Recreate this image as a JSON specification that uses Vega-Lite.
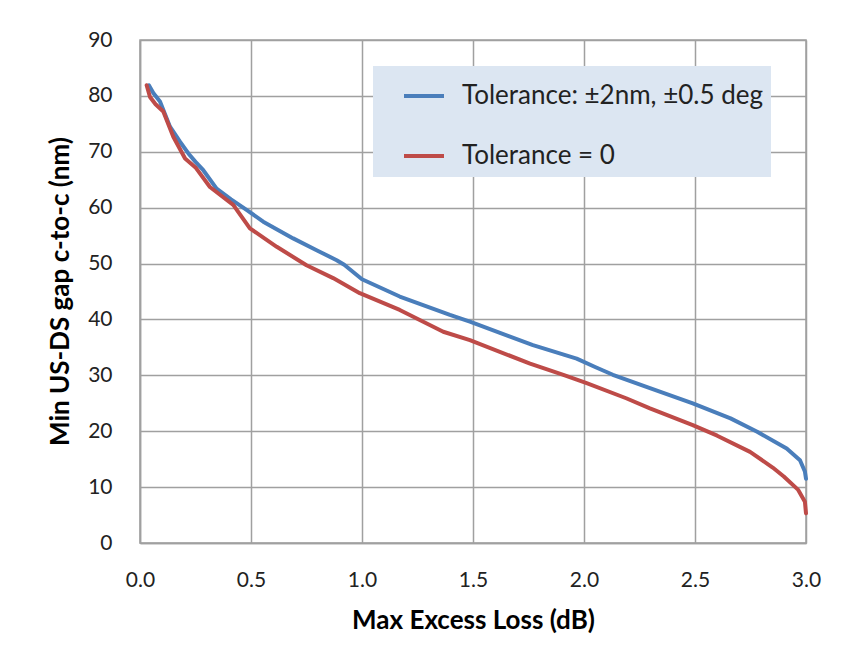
{
  "$schema": "https://vega.github.io/schema/vega-lite/v6.json",
  "autosize": {"type": "none"},
  "width": 666,
  "height": 503,
  "padding": {"left": 140, "top": 40, "right": 40, "bottom": 122},
  "background": "white",
  "config": {
    "font": "Lato",
    "view": {"stroke": "#a0a0a0", "strokeWidth": 1.5},
    "axis": {
      "domainColor": "#a0a0a0",
      "domainWidth": 1.5,
      "gridColor": "#a0a0a0",
      "gridWidth": 1.5,
      "ticks": false,
      "labelFlush": false,
      "labelOverlap": false,
      "labelFont": "Lato",
      "labelFontSize": 21,
      "labelColor": "#222222",
      "titleFont": "Lato",
      "titleFontSize": 26,
      "titleFontWeight": "bold",
      "titleColor": "#000000"
    }
  },
  "data": {
    "values": [
      {"series": "Tolerance: ±2nm, ±0.5 deg", "loss": 0.04, "gap": 81.9},
      {"series": "Tolerance: ±2nm, ±0.5 deg", "loss": 0.06, "gap": 80.5},
      {"series": "Tolerance: ±2nm, ±0.5 deg", "loss": 0.09, "gap": 79.0},
      {"series": "Tolerance: ±2nm, ±0.5 deg", "loss": 0.135, "gap": 74.5},
      {"series": "Tolerance: ±2nm, ±0.5 deg", "loss": 0.18, "gap": 71.8},
      {"series": "Tolerance: ±2nm, ±0.5 deg", "loss": 0.218, "gap": 69.7},
      {"series": "Tolerance: ±2nm, ±0.5 deg", "loss": 0.25, "gap": 68.2},
      {"series": "Tolerance: ±2nm, ±0.5 deg", "loss": 0.285, "gap": 66.7},
      {"series": "Tolerance: ±2nm, ±0.5 deg", "loss": 0.345, "gap": 63.4},
      {"series": "Tolerance: ±2nm, ±0.5 deg", "loss": 0.41, "gap": 61.5},
      {"series": "Tolerance: ±2nm, ±0.5 deg", "loss": 0.48, "gap": 59.6},
      {"series": "Tolerance: ±2nm, ±0.5 deg", "loss": 0.555, "gap": 57.5},
      {"series": "Tolerance: ±2nm, ±0.5 deg", "loss": 0.69, "gap": 54.5},
      {"series": "Tolerance: ±2nm, ±0.5 deg", "loss": 0.8, "gap": 52.3},
      {"series": "Tolerance: ±2nm, ±0.5 deg", "loss": 0.886, "gap": 50.6},
      {"series": "Tolerance: ±2nm, ±0.5 deg", "loss": 0.92, "gap": 49.8},
      {"series": "Tolerance: ±2nm, ±0.5 deg", "loss": 1.0, "gap": 47.2},
      {"series": "Tolerance: ±2nm, ±0.5 deg", "loss": 1.17, "gap": 44.1},
      {"series": "Tolerance: ±2nm, ±0.5 deg", "loss": 1.396, "gap": 40.8},
      {"series": "Tolerance: ±2nm, ±0.5 deg", "loss": 1.486, "gap": 39.6},
      {"series": "Tolerance: ±2nm, ±0.5 deg", "loss": 1.77, "gap": 35.4},
      {"series": "Tolerance: ±2nm, ±0.5 deg", "loss": 1.967, "gap": 33.0},
      {"series": "Tolerance: ±2nm, ±0.5 deg", "loss": 2.05, "gap": 31.5},
      {"series": "Tolerance: ±2nm, ±0.5 deg", "loss": 2.13, "gap": 30.1},
      {"series": "Tolerance: ±2nm, ±0.5 deg", "loss": 2.297, "gap": 27.7},
      {"series": "Tolerance: ±2nm, ±0.5 deg", "loss": 2.49, "gap": 25.0},
      {"series": "Tolerance: ±2nm, ±0.5 deg", "loss": 2.66, "gap": 22.3},
      {"series": "Tolerance: ±2nm, ±0.5 deg", "loss": 2.78, "gap": 19.9},
      {"series": "Tolerance: ±2nm, ±0.5 deg", "loss": 2.913, "gap": 16.9},
      {"series": "Tolerance: ±2nm, ±0.5 deg", "loss": 2.973, "gap": 14.8},
      {"series": "Tolerance: ±2nm, ±0.5 deg", "loss": 2.995, "gap": 12.8},
      {"series": "Tolerance: ±2nm, ±0.5 deg", "loss": 3.0, "gap": 11.5},
      {"series": "Tolerance = 0", "loss": 0.03, "gap": 81.9},
      {"series": "Tolerance = 0", "loss": 0.045, "gap": 79.8},
      {"series": "Tolerance = 0", "loss": 0.07, "gap": 78.5},
      {"series": "Tolerance = 0", "loss": 0.105, "gap": 77.2},
      {"series": "Tolerance = 0", "loss": 0.15, "gap": 72.7},
      {"series": "Tolerance = 0", "loss": 0.203, "gap": 68.8},
      {"series": "Tolerance = 0", "loss": 0.25, "gap": 67.2},
      {"series": "Tolerance = 0", "loss": 0.315, "gap": 63.7},
      {"series": "Tolerance = 0", "loss": 0.42, "gap": 60.5},
      {"series": "Tolerance = 0", "loss": 0.495, "gap": 56.3},
      {"series": "Tolerance = 0", "loss": 0.616, "gap": 53.0},
      {"series": "Tolerance = 0", "loss": 0.75, "gap": 49.7},
      {"series": "Tolerance = 0", "loss": 0.87, "gap": 47.4},
      {"series": "Tolerance = 0", "loss": 0.99, "gap": 44.7},
      {"series": "Tolerance = 0", "loss": 1.17, "gap": 41.7},
      {"series": "Tolerance = 0", "loss": 1.366, "gap": 37.8},
      {"series": "Tolerance = 0", "loss": 1.486, "gap": 36.3},
      {"series": "Tolerance = 0", "loss": 1.757, "gap": 32.1},
      {"series": "Tolerance = 0", "loss": 1.907, "gap": 30.1},
      {"series": "Tolerance = 0", "loss": 2.012, "gap": 28.6},
      {"series": "Tolerance = 0", "loss": 2.19, "gap": 25.9},
      {"series": "Tolerance = 0", "loss": 2.297, "gap": 24.1},
      {"series": "Tolerance = 0", "loss": 2.49, "gap": 21.1},
      {"series": "Tolerance = 0", "loss": 2.6, "gap": 19.2},
      {"series": "Tolerance = 0", "loss": 2.748, "gap": 16.3},
      {"series": "Tolerance = 0", "loss": 2.85, "gap": 13.5},
      {"series": "Tolerance = 0", "loss": 2.9, "gap": 11.9},
      {"series": "Tolerance = 0", "loss": 2.965, "gap": 9.5},
      {"series": "Tolerance = 0", "loss": 2.995, "gap": 7.4},
      {"series": "Tolerance = 0", "loss": 3.0, "gap": 5.3}
    ]
  },
  "mark": {"type": "line", "strokeWidth": 4, "strokeCap": "round", "strokeJoin": "round"},
  "encoding": {
    "x": {
      "field": "loss",
      "type": "quantitative",
      "scale": {"domain": [0, 3], "nice": false, "zero": false},
      "axis": {
        "values": [0, 0.5, 1, 1.5, 2, 2.5, 3],
        "format": ".1f",
        "labelPadding": 26,
        "title": "Max Excess Loss (dB)",
        "titleX": 333,
        "titleY": 77,
        "titleBaseline": "middle",
        "titleAlign": "center"
      }
    },
    "y": {
      "field": "gap",
      "type": "quantitative",
      "scale": {"domain": [0, 90], "nice": false},
      "axis": {
        "values": [0, 10, 20, 30, 40, 50, 60, 70, 80, 90],
        "labelPadding": 28,
        "title": "Min US-DS gap c-to-c (nm)",
        "titleX": -80,
        "titleY": 251,
        "titleAngle": -90,
        "titleBaseline": "middle",
        "titleAlign": "center"
      }
    },
    "color": {
      "field": "series",
      "type": "nominal",
      "sort": ["Tolerance: ±2nm, ±0.5 deg", "Tolerance = 0"],
      "scale": {
        "domain": ["Tolerance: ±2nm, ±0.5 deg", "Tolerance = 0"],
        "range": ["#4a7ebb", "#be4b48"]
      },
      "legend": {
        "title": null,
        "orient": "none",
        "legendX": 233,
        "legendY": 26,
        "fillColor": "#dce6f2",
        "padding": 8,
        "symbolType": "stroke",
        "symbolSize": 1600,
        "symbolStrokeWidth": 4,
        "symbolOffset": 21,
        "labelFontSize": 26,
        "labelFont": "Lato",
        "labelColor": "#222222",
        "labelOffset": 16,
        "rowPadding": 25,
        "labelLimit": 400
      }
    }
  }
}
